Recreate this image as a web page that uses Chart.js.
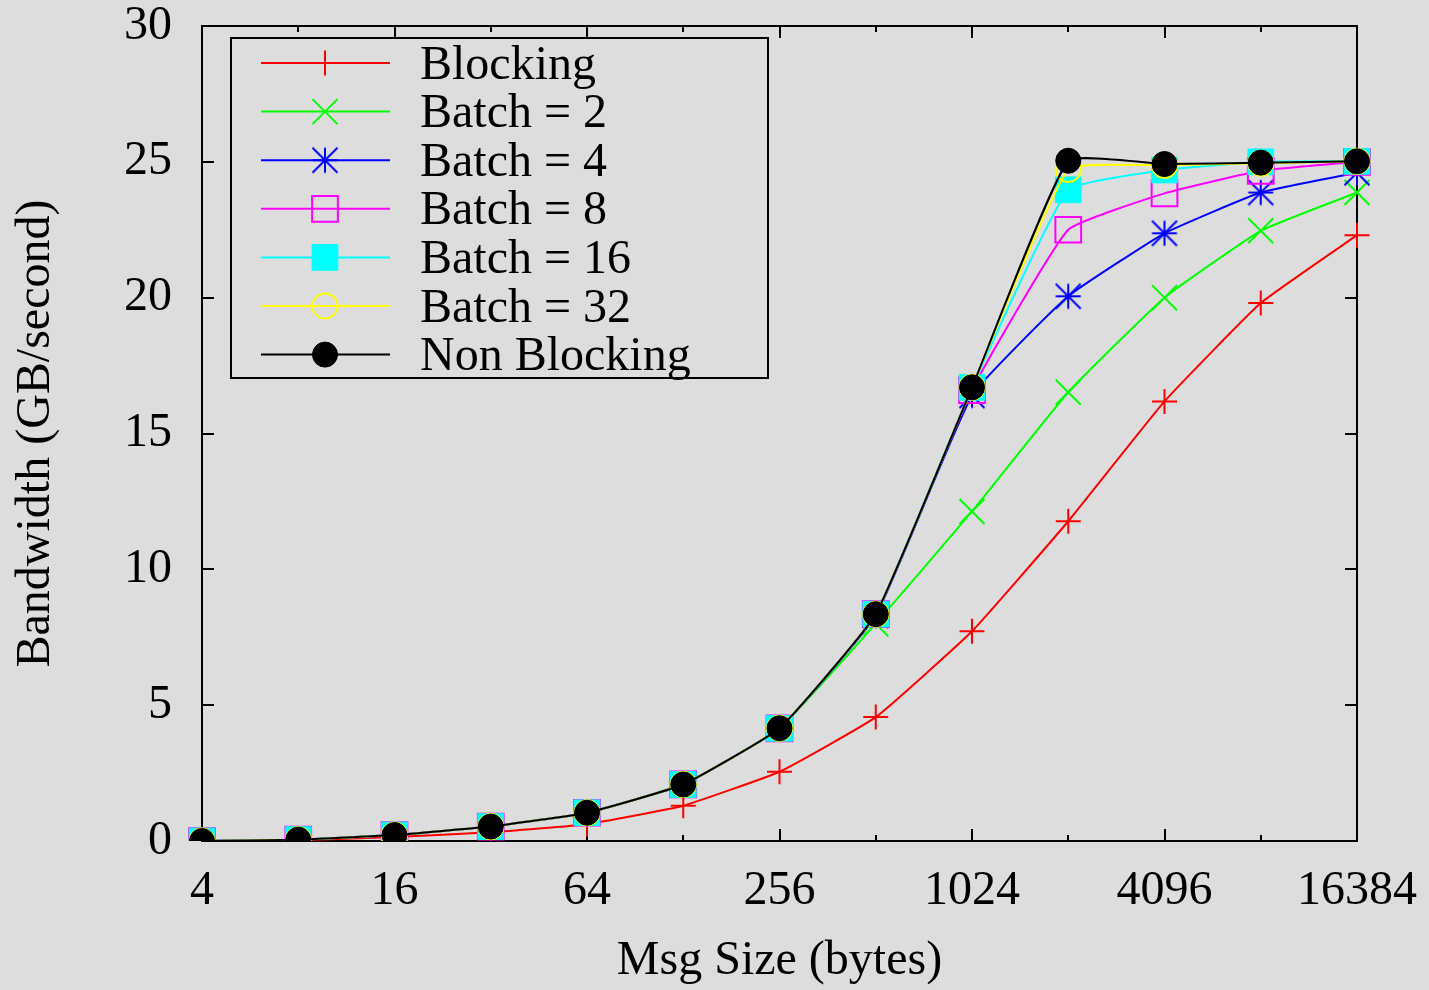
<!DOCTYPE html>
<html>
<head>
<meta charset="utf-8">
<script src="https://cdn.jsdelivr.net/npm/chart.js@4.4.1/dist/chart.umd.min.js"></script>
<style>
  html, body { margin: 0; padding: 0; background: #dddddd; }
  #wrap { width: 1429px; height: 990px; }
  #fontprobe { position: absolute; left: -9999px; top: 0; font: 48px "Liberation Serif"; }
</style>
</head>
<body>
<div id="fontprobe">Bandwidth 0123456789</div>
<div id="wrap"><canvas id="c" width="1429" height="990"></canvas></div>
<script>
// ---- data ----
const msgSizes = [4, 8, 16, 32, 64, 128, 256, 512, 1024, 2048, 4096, 8192, 16384];
const labeledSizes = [4, 16, 64, 256, 1024, 4096, 16384];
const yTicks = [0, 5, 10, 15, 20, 25, 30];

const blocking    = [0.0, 0.03, 0.15, 0.32, 0.62, 1.30, 2.55, 4.56, 7.72, 11.77, 16.18, 19.80, 22.30];
const batch2      = [0.0, 0.05, 0.22, 0.53, 1.04, 2.08, 4.15, 8.00, 12.13, 16.52, 20.00, 22.46, 23.87];
const batch4      = [0.0, 0.05, 0.22, 0.53, 1.04, 2.08, 4.15, 8.30, 16.40, 20.05, 22.37, 23.87, 24.60];
const batch8      = [0.0, 0.05, 0.22, 0.53, 1.04, 2.08, 4.15, 8.35, 16.60, 22.50, 23.84, 24.67, 25.00];
const batch16     = [0.0, 0.05, 0.22, 0.53, 1.04, 2.08, 4.15, 8.35, 16.70, 23.97, 24.70, 25.00, 25.02];
const batch32     = [0.0, 0.05, 0.22, 0.53, 1.04, 2.08, 4.15, 8.35, 16.70, 24.72, 24.87, 24.95, 25.02];
const nonBlocking = [0.0, 0.05, 0.22, 0.53, 1.04, 2.08, 4.15, 8.35, 16.70, 25.04, 24.92, 24.97, 25.02];

const seriesNames = ['Blocking', 'Batch = 2', 'Batch = 4', 'Batch = 8', 'Batch = 16', 'Batch = 32', 'Non Blocking'];

// ---- styles ----
const FONT = '"Liberation Serif", "Times New Roman", serif';
const FS = 48;

function makeStar(color) {
  const c = document.createElement('canvas');
  c.width = 28; c.height = 28;
  const g = c.getContext('2d');
  g.strokeStyle = color; g.lineWidth = 2;
  g.beginPath();
  g.moveTo(1.5, 14); g.lineTo(26.5, 14);
  g.moveTo(14, 1.5); g.lineTo(14, 26.5);
  g.moveTo(1.5, 1.5); g.lineTo(26.5, 26.5);
  g.moveTo(26.5, 1.5); g.lineTo(1.5, 26.5);
  g.stroke();
  return c;
}

const styles = [
  { color: '#ff0000', pointStyle: 'cross',    radius: 12.5, fill: 'rgba(0,0,0,0)', bw: 2 },
  { color: '#00ff00', pointStyle: 'crossRot', radius: 17.7, fill: 'rgba(0,0,0,0)', bw: 2 },
  { color: '#0000ff', pointStyle: makeStar('#0000ff'), radius: 14, fill: 'rgba(0,0,0,0)', bw: 2 },
  { color: '#ff00ff', pointStyle: 'rect',     radius: 18.2, fill: 'rgba(0,0,0,0)', bw: 2 },
  { color: '#00ffff', pointStyle: 'rect',     radius: 18.2, fill: '#00ffff', bw: 1 },
  { color: '#ffff00', pointStyle: 'circle',   radius: 12.5, fill: 'rgba(0,0,0,0)', bw: 2 },
  { color: '#000000', pointStyle: 'circle',   radius: 12.5, fill: '#000000', bw: 1 }
];
const seriesData = [blocking, batch2, batch4, batch8, batch16, batch32, nonBlocking];

const datasets = seriesData.map((d, i) => ({
  label: seriesNames[i],
  data: d,
  borderColor: styles[i].color,
  backgroundColor: styles[i].fill,
  borderWidth: 2,
  fill: false,
  tension: 0.12,
  pointStyle: styles[i].pointStyle,
  pointRadius: styles[i].radius,
  pointBorderWidth: styles[i].bw,
  pointBorderColor: styles[i].color,
  pointBackgroundColor: styles[i].fill,
  order: seriesData.length - i
}));

// ---- plugins ----
const bgPlugin = {
  id: 'bg',
  beforeDraw(chart) {
    const ctx = chart.ctx;
    ctx.save();
    ctx.fillStyle = '#dddddd';
    ctx.fillRect(0, 0, chart.width, chart.height);
    ctx.restore();
  }
};

const framePlugin = {
  id: 'frame',
  beforeDatasetsDraw(chart) {
    const { ctx, chartArea: a, scales } = chart;
    ctx.save();
    ctx.strokeStyle = '#000';
    ctx.lineWidth = 2;
    ctx.strokeRect(a.left, a.top, a.right - a.left, a.bottom - a.top);
    ctx.beginPath();
    yTicks.forEach(v => {
      const y = Math.round(scales.y.getPixelForValue(v));
      ctx.moveTo(a.left, y); ctx.lineTo(a.left + 12, y);
      ctx.moveTo(a.right, y); ctx.lineTo(a.right - 12, y);
    });
    msgSizes.forEach((s, i) => {
      const x = Math.round(scales.x.getPixelForValue(i));
      const len = labeledSizes.includes(s) ? 12 : 6;
      ctx.moveTo(x, a.bottom); ctx.lineTo(x, a.bottom - len);
      ctx.moveTo(x, a.top); ctx.lineTo(x, a.top + len);
    });
    ctx.stroke();
    ctx.restore();
  }
};

const legendPlugin = {
  id: 'gpLegend',
  afterDraw(chart) {
    const ctx = chart.ctx;
    ctx.save();
    ctx.strokeStyle = '#000';
    ctx.lineWidth = 2;
    ctx.strokeRect(231, 38, 537, 340);
    chart.data.datasets.forEach((ds, i) => {
      const y = 63 + i * 48.6;
      ctx.strokeStyle = ds.borderColor;
      ctx.lineWidth = 2;
      ctx.beginPath();
      ctx.moveTo(261, y); ctx.lineTo(390, y);
      ctx.stroke();
      ctx.fillStyle = ds.pointBackgroundColor;
      ctx.strokeStyle = ds.pointBorderColor;
      ctx.lineWidth = ds.pointBorderWidth;
      Chart.helpers.drawPoint(ctx, {
        pointStyle: ds.pointStyle, radius: ds.pointRadius,
        borderWidth: ds.pointBorderWidth, rotation: 0
      }, 325, y);
      ctx.fillStyle = '#000';
      ctx.font = FS + 'px ' + FONT;
      ctx.textAlign = 'left';
      ctx.textBaseline = 'middle';
      ctx.fillText(ds.label, 420, y + 3);
    });
    ctx.restore();
  }
};

function noPad(scale) {
  scale.paddingTop = 0; scale.paddingBottom = 0;
  scale.paddingLeft = 0; scale.paddingRight = 0;
}

function draw() {
  Chart.defaults.font.family = FONT;
  Chart.defaults.color = '#000';

  new Chart(document.getElementById('c'), {
    type: 'line',
    data: { labels: msgSizes.map(String), datasets },
    options: {
      responsive: false,
      animation: false,
      devicePixelRatio: 1,
      layout: { padding: { top: 26, right: 72, left: 0, bottom: 0 } },
      plugins: { legend: { display: false }, tooltip: { enabled: false } },
      scales: {
        x: {
          type: 'category',
          offset: false,
          grid: { display: false, drawTicks: false },
          border: { display: false },
          ticks: {
            autoSkip: false,
            maxRotation: 0,
            padding: 26,
            font: { size: FS, lineHeight: 1.0 },
            callback: function (v, i) {
              const s = msgSizes[i];
              return labeledSizes.includes(s) ? String(s) : '';
            }
          },
          title: {
            display: true, text: 'Msg Size (bytes)',
            font: { size: FS, lineHeight: 1.2 },
            padding: { top: 0, bottom: 0 }
          },
          afterFit(scale) { scale.height = 149; noPad(scale); }
        },
        y: {
          min: 0, max: 30,
          grid: { display: false, drawTicks: false },
          border: { display: false },
          ticks: {
            stepSize: 5,
            padding: 30,
            font: { size: FS, lineHeight: 1.0 }
          },
          title: {
            display: true, text: 'Bandwidth (GB/second)',
            font: { size: FS, lineHeight: 1.2 },
            padding: { top: 8, bottom: 0 }
          },
          afterFit(scale) { scale.width = 202; noPad(scale); }
        }
      }
    },
    plugins: [bgPlugin, framePlugin, legendPlugin]
  });
}

if (document.fonts && document.fonts.load) {
  Promise.all([
    document.fonts.load('48px "Liberation Serif"'),
    document.fonts.ready
  ]).then(draw, draw);
} else {
  draw();
}
</script>
</body>
</html>
